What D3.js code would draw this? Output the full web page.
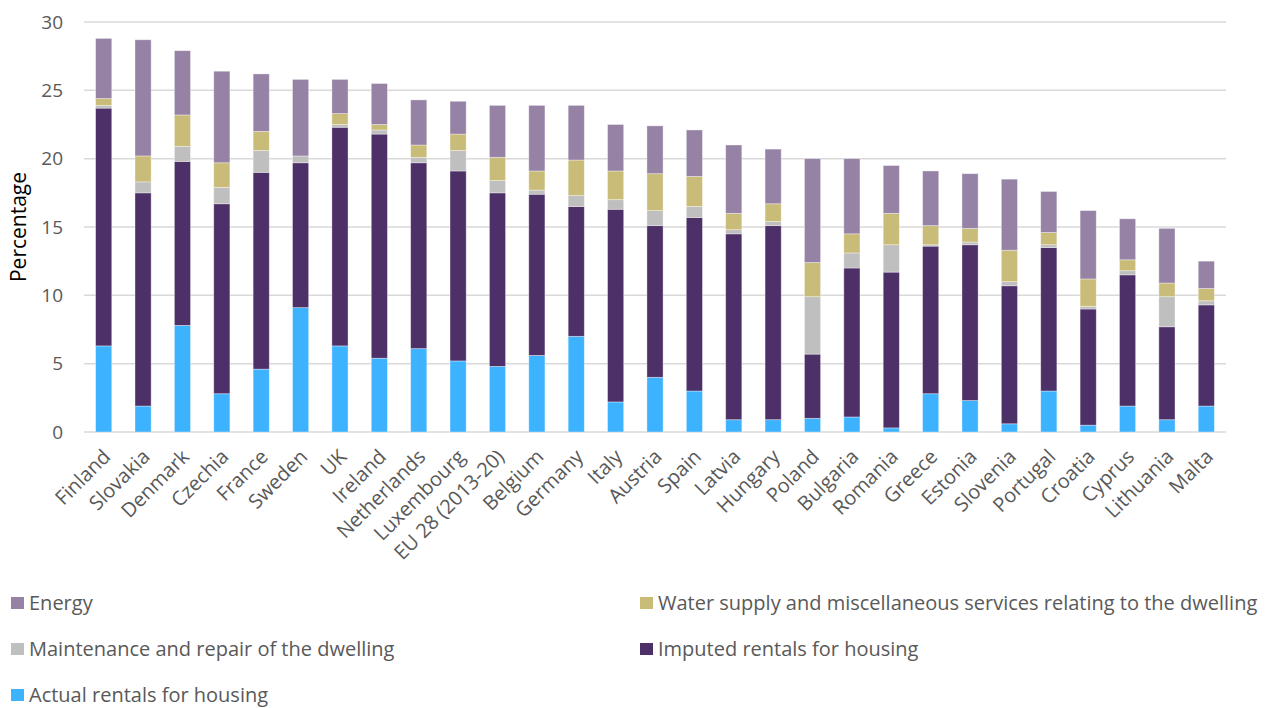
<!DOCTYPE html>
<html>
<head>
<meta charset="utf-8">
<script src="https://cdn.jsdelivr.net/npm/d3@7"></script>
<style>
  html, body { margin: 0; padding: 0; background: #fff; }
  svg text { font-family: "Open Sans", "Noto Sans", sans-serif; }
</style>
</head>
<body>
<svg id="chart" width="1269" height="708"></svg>
<script>
// Housing-related expenditure, share of total household consumption (%)
const countries = ["Finland","Slovakia","Denmark","Czechia","France","Sweden","UK","Ireland","Netherlands","Luxembourg","EU 28 (2013-20)","Belgium","Germany","Italy","Austria","Spain","Latvia","Hungary","Poland","Bulgaria","Romania","Greece","Estonia","Slovenia","Portugal","Croatia","Cyprus","Lithuania","Malta"];

const actualRentals   = [6.3, 1.9, 7.8, 2.8, 4.6, 9.1, 6.3, 5.4, 6.1, 5.2, 4.8, 5.6, 7.0, 2.2, 4.0, 3.0, 0.9, 0.9, 1.0, 1.1, 0.3, 2.8, 2.3, 0.6, 3.0, 0.5, 1.9, 0.9, 1.9];
const imputedRentals  = [17.4, 15.6, 12.0, 13.9, 14.4, 10.6, 16.0, 16.4, 13.6, 13.9, 12.7, 11.8, 9.5, 14.1, 11.1, 12.7, 13.6, 14.2, 4.7, 10.9, 11.4, 10.8, 11.4, 10.1, 10.5, 8.5, 9.6, 6.8, 7.4];
const maintenance     = [0.2, 0.8, 1.1, 1.2, 1.6, 0.5, 0.2, 0.3, 0.4, 1.5, 0.9, 0.3, 0.8, 0.7, 1.1, 0.8, 0.3, 0.3, 4.2, 1.1, 2.0, 0.1, 0.2, 0.3, 0.2, 0.2, 0.3, 2.2, 0.3];
const waterServices   = [0.5, 1.9, 2.3, 1.8, 1.4, 0.0, 0.8, 0.4, 0.9, 1.2, 1.7, 1.4, 2.6, 2.1, 2.7, 2.2, 1.2, 1.3, 2.5, 1.4, 2.3, 1.4, 1.0, 2.3, 0.9, 2.0, 0.8, 1.0, 0.9];
const energy          = [4.4, 8.5, 4.7, 6.7, 4.2, 5.6, 2.5, 3.0, 3.3, 2.4, 3.8, 4.8, 4.0, 3.4, 3.5, 3.4, 5.0, 4.0, 7.6, 5.5, 3.5, 4.0, 4.0, 5.2, 3.0, 5.0, 3.0, 4.0, 2.0];

const yTicks = [0, 5, 10, 15, 20, 25, 30];
const yTitle = "Percentage";

// Stack order, bottom to top
const seriesKeys   = ["actual", "imputed", "maint", "water", "energy"];
const seriesNames  = {
  actual: "Actual rentals for housing",
  imputed: "Imputed rentals for housing",
  maint: "Maintenance and repair of the dwelling",
  water: "Water supply and miscellaneous services relating to the dwelling",
  energy: "Energy"
};
const seriesColors = {
  actual: "#3db3ff",
  imputed: "#4e3068",
  maint: "#bfbfbf",
  water: "#c9bc78",
  energy: "#9582a4"
};

const rows = countries.map((c, i) => ({
  country: c,
  actual: actualRentals[i],
  imputed: imputedRentals[i],
  maint: maintenance[i],
  water: waterServices[i],
  energy: energy[i]
}));

const svg = d3.select("#chart");
const margin = { left: 84, right: 43, top: 22, bottom: 276 };
const width = 1269, height = 708;

const x = d3.scaleBand()
  .domain(countries)
  .range([margin.left, width - margin.right])
  .paddingInner(0.59)
  .paddingOuter(0.295);

const y = d3.scaleLinear()
  .domain([0, 30])
  .range([height - margin.bottom, margin.top]);

// Horizontal gridlines
svg.append("g")
  .selectAll("line")
  .data(yTicks)
  .join("line")
  .attr("x1", margin.left)
  .attr("x2", width - margin.right)
  .attr("y1", d => y(d))
  .attr("y2", d => y(d))
  .attr("stroke", "#d9d9d9")
  .attr("stroke-width", 1.5);

// Y axis labels
const yAxis = d3.axisLeft(y).tickValues(yTicks).tickSize(0).tickPadding(0);
const yg = svg.append("g")
  .attr("transform", `translate(${margin.left - 21},0)`)
  .call(yAxis);
yg.select(".domain").remove();
yg.selectAll("text")
  .attr("font-size", 19)
  .attr("fill", "#595959")
  .attr("font-family", "'Open Sans', sans-serif");

svg.append("text")
  .attr("transform", `translate(26,${y(15)}) rotate(-90)`)
  .attr("text-anchor", "middle")
  .attr("font-size", 21)
  .attr("fill", "#000")
  .text(yTitle);

// Stacked bars
const stack = d3.stack().keys(seriesKeys);
const layers = stack(rows);

svg.append("g")
  .selectAll("g")
  .data(layers)
  .join("g")
  .attr("fill", d => seriesColors[d.key])
  .selectAll("rect")
  .data(d => d)
  .join("rect")
  .attr("x", d => x(d.data.country))
  .attr("width", x.bandwidth())
  .attr("y", d => y(d[1]))
  .attr("height", d => Math.max(0, y(d[0]) - y(d[1])))
  .attr("stroke", "#ffffff")
  .attr("stroke-opacity", 0.45)
  .attr("stroke-width", 0.8);

// X axis category labels, rotated
const xg = svg.append("g")
  .attr("transform", `translate(0,${y(0)})`)
  .call(d3.axisBottom(x).tickSize(0).tickPadding(0));
xg.select(".domain").remove();
xg.selectAll("text")
  .attr("font-size", 20)
  .attr("fill", "#595959")
  .attr("text-anchor", "end")
  .attr("dy", 0)
  .attr("transform", "translate(8,26) rotate(-45)");

// Legend
const legendItems = [
  { key: "energy", col: 0, row: 0 },
  { key: "water", col: 1, row: 0 },
  { key: "maint", col: 0, row: 1 },
  { key: "imputed", col: 1, row: 1 },
  { key: "actual", col: 0, row: 2 }
];
const legendX = [11, 640];
const legendY = [603, 649, 695];

const lg = svg.append("g")
  .selectAll("g")
  .data(legendItems)
  .join("g")
  .attr("transform", d => `translate(${legendX[d.col]},${legendY[d.row]})`);
lg.append("rect")
  .attr("x", 0)
  .attr("y", -6)
  .attr("width", 13)
  .attr("height", 12)
  .attr("fill", d => seriesColors[d.key]);
lg.append("text")
  .attr("x", 18)
  .attr("y", 0)
  .attr("dy", "0.35em")
  .attr("font-size", 20)
  .attr("fill", "#595959")
  .text(d => seriesNames[d.key]);
</script>
</body>
</html>
